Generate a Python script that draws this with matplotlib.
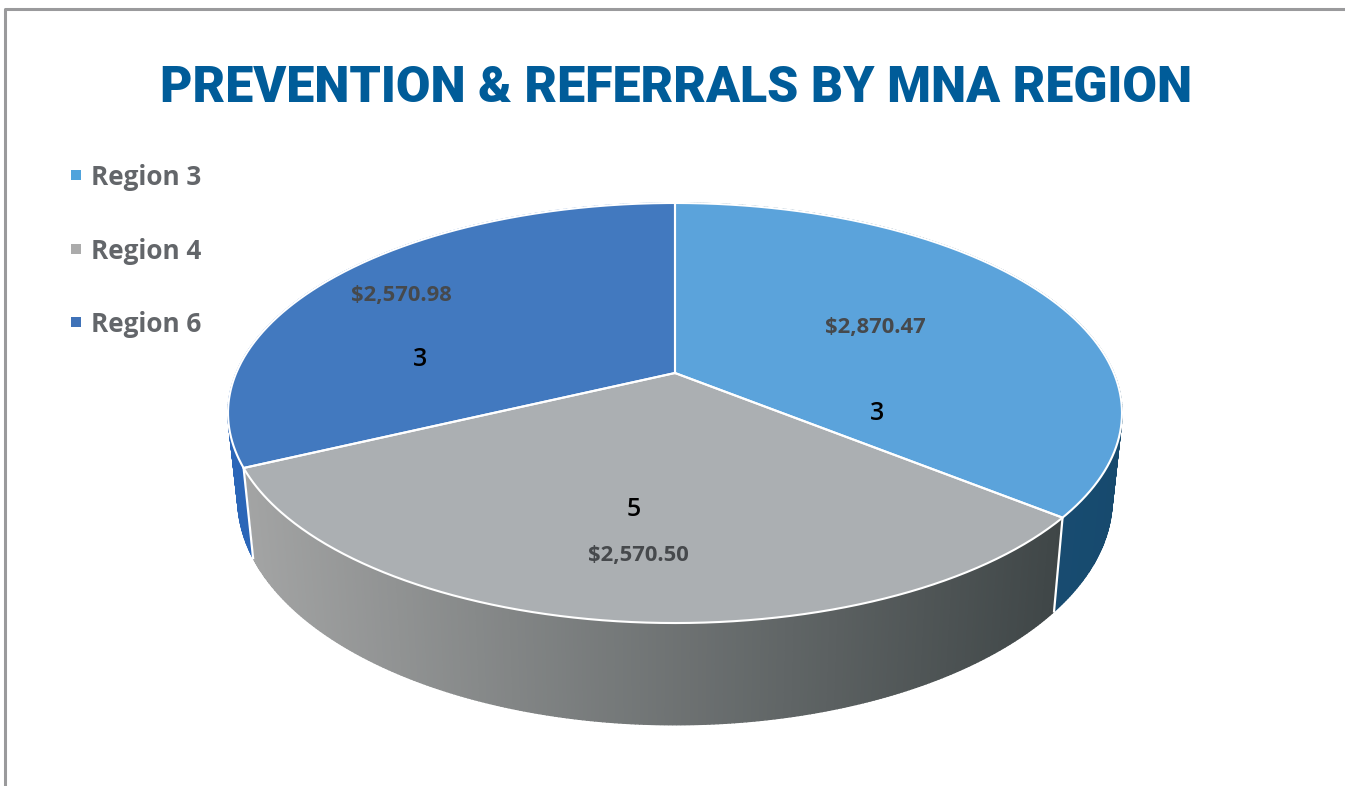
import numpy as np
import matplotlib
matplotlib.use("Agg")
import matplotlib.pyplot as plt
from matplotlib.colors import to_rgb
from matplotlib.lines import Line2D

# Datos
regiones = ["Region 3", "Region 4", "Region 6"]
montos = [2870.47, 2570.50, 2570.98]
etiquetas_monto = ["$2,870.47", "$2,570.50", "$2,570.98"]
conteos = ["3", "5", "3"]

colores_tapa = ["#5BA3DB", "#ABAFB2", "#4279BF"]
colores_leyenda = ["#4FA3DC", "#ABABAB", "#3F72B8"]
# color de la pared: izquierda -> derecha
pared_izq = ["#1C5580", "#A3A4A4", "#2B66B8"]
pared_der = ["#174A6E", "#3F4647", "#2B66B8"]

W, H = 1345, 786
CX, CY = 675, 373
A, B, K = 438.8, 202.4, 0.1905


def tapa(theta):
    """Proyecta el angulo (horario desde arriba) sobre el borde de la tapa."""
    u, v = np.sin(theta), np.cos(theta)
    w = 1 + K * v
    return CX + A * u / w, CY - B * v / w


def base(x, y):
    """Pasa un punto del borde superior al borde inferior."""
    return CX + 0.978 * (x - CX), 1.075 * y + 55


fig = plt.figure(figsize=(W / 100, H / 100), dpi=100)
ax = fig.add_axes([0, 0, 1, 1])
ax.set_xlim(0, W)
ax.set_ylim(H, 0)
ax.axis("off")

# marco gris
ax.add_line(Line2D([4.5, 4.5, W], [H, 9, 9], color="#9A9A9C", lw=2.2))

limites = np.cumsum([0] + montos) / sum(montos) * 2 * np.pi

# paredes (de atras hacia adelante)
for i in range(len(montos)):
    ang = np.linspace(limites[i], limites[i + 1], 260)
    x0, y0 = tapa(ang)
    x1, y1 = base(x0, y0)
    c0, c1 = np.array(to_rgb(pared_izq[i])), np.array(to_rgb(pared_der[i]))
    xmin, xmax = x0.min(), x0.max()
    for j in range(len(ang) - 1):
        f = (x0[j] - xmin) / (xmax - xmin)
        col = c0 + (c1 - c0) * f
        ax.fill([x0[j], x0[j + 1], x1[j + 1], x1[j]],
                [y0[j], y0[j + 1], y1[j + 1], y1[j]],
                color=col, lw=1.0, zorder=2)

# separadores de la pared
for i in [1, 2]:
    x0, y0 = tapa(limites[i])
    x1, y1 = base(x0, y0)
    ax.plot([x0, x1], [y0, y1], color="white", lw=1.6, zorder=3)

# tapa
for i in range(len(montos)):
    ang = np.linspace(limites[i], limites[i + 1], 300)
    x0, y0 = tapa(ang)
    ax.fill(np.r_[CX, x0], np.r_[CY, y0], color=colores_tapa[i], lw=0, zorder=4)
    ax.plot(np.r_[CX, x0, CX], np.r_[CY, y0, CY], color="white", lw=1.5,
            zorder=5, solid_joinstyle="round")

# etiquetas
pos_monto = [(875, 328), (638, 556), (401, 296)]
pos_conteo = [(877, 413), (634, 509), (420, 360)]
for i in range(len(montos)):
    ax.text(*pos_monto[i], etiquetas_monto[i], ha="center", va="center", zorder=6,
            family="Open Sans", weight="bold", fontsize=15.8, color="#46494C")
    ax.text(*pos_conteo[i], conteos[i], ha="center", va="center", zorder=6,
            family="Open Sans", weight="semibold", fontsize=18, color="black")

# leyenda
y_leyenda = [175, 249, 322]
for i in range(len(regiones)):
    ax.plot(75.5, y_leyenda[i], marker="s", ms=6.5, mew=0, color=colores_leyenda[i])
    ax.text(91, y_leyenda[i] + 2.5, regiones[i], ha="left", va="center",
            family="Open Sans", weight="bold", fontsize=18.8, color="#63666A")

ax.text(676, 89, "PREVENTION & REFERRALS BY MNA REGION", ha="center", va="center",
        family="Roboto", weight="black", fontsize=36, color="#005C99")

fig.savefig("out.png", dpi=100)
